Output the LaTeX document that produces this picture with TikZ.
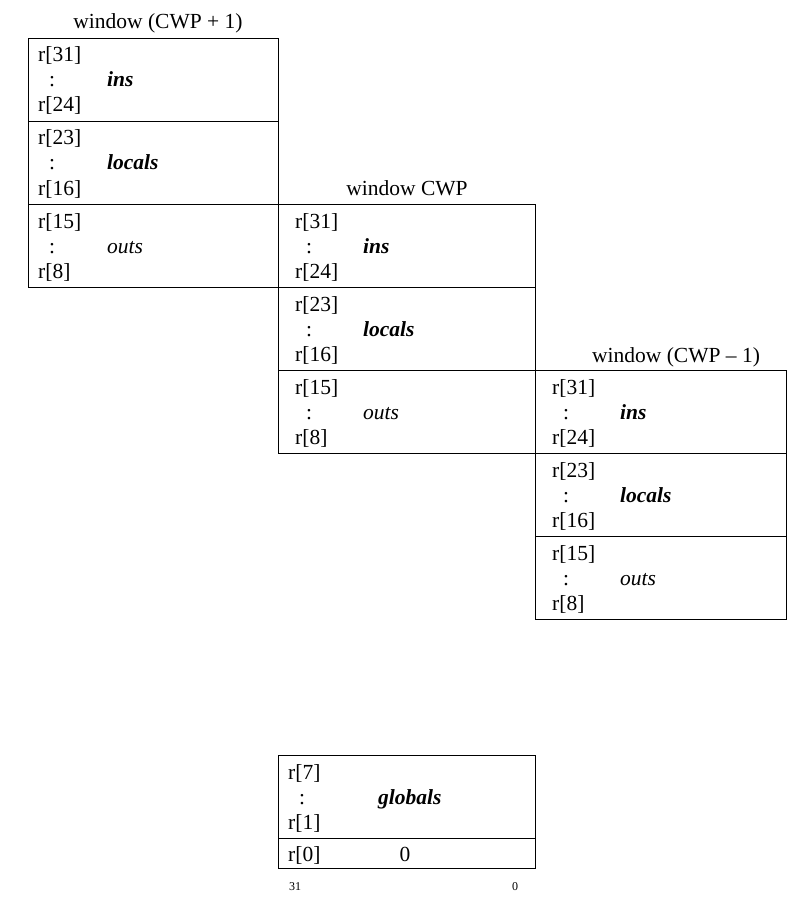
\documentclass[tikz,border=0pt]{standalone}
\usepackage{fontspec}
\setmainfont{Liberation Serif}
\usetikzlibrary{positioning}

\begin{document}
\begin{tikzpicture}[x=1pt,y=-1pt]
  \tikzstyle{every node}=[inner sep=0pt, font=\fontsize{21.5}{26}\selectfont]
  \tikzstyle{part}=[draw, line width=0.9pt, rectangle, anchor=north west, minimum height=83pt]
  \tikzstyle{reg}=[anchor=base west]
  \tikzstyle{grp}=[anchor=base west, font=\fontsize{21.5}{26}\selectfont\bfseries\itshape]
  \tikzstyle{ogrp}=[anchor=base west, font=\fontsize{21.5}{26}\selectfont\itshape]
  \tikzstyle{wtitle}=[anchor=base]

  \useasboundingbox (0,0) rectangle (808,912);

  % window CWP+1
  \node (t1) [wtitle] at (158,29) {window (CWP + 1)};
  \node (w1i) [part, minimum width=250pt] at (28,38) {};
  \node (w1l) [part, minimum width=250pt] at (28,121) {};
  \node (w1o) [part, minimum width=250pt] at (28,204) {};
  \node (a1) [reg] at (38,62) {r[31]};
  \node (b1) [reg] at (49,87) {:};
  \node (c1) [reg] at (38,112) {r[24]};
  \node (n1) [grp] at (107,87) {ins};
  \node (d1) [reg] at (38,145) {r[23]};
  \node (e1) [reg] at (49,170) {:};
  \node (f1) [reg] at (38,195) {r[16]};
  \node (m1) [grp] at (107,170) {locals};
  \node (g1) [reg] at (38,228) {r[15]};
  \node (h1) [reg] at (49,253) {:};
  \node (k1) [reg] at (38,278) {r[8]};
  \node (o1) [ogrp] at (107,253) {outs};

  % window CWP
  \node (t2) [wtitle] at (407,195) {window CWP};
  \node (w2i) [part, minimum width=257pt] at (278,204) {};
  \node (w2l) [part, minimum width=257pt] at (278,287) {};
  \node (w2o) [part, minimum width=257pt] at (278,370) {};
  \node (a2) [reg] at (295,228) {r[31]};
  \node (b2) [reg] at (306,253) {:};
  \node (c2) [reg] at (295,278) {r[24]};
  \node (n2) [grp] at (363,253) {ins};
  \node (d2) [reg] at (295,311) {r[23]};
  \node (e2) [reg] at (306,336) {:};
  \node (f2) [reg] at (295,361) {r[16]};
  \node (m2) [grp] at (363,336) {locals};
  \node (g2) [reg] at (295,394) {r[15]};
  \node (h2) [reg] at (306,419) {:};
  \node (k2) [reg] at (295,444) {r[8]};
  \node (o2) [ogrp] at (363,419) {outs};

  % window CWP-1
  \node (t3) [wtitle] at (676,362) {window (CWP -- 1)};
  \node (w3i) [part, minimum width=251pt] at (535,370) {};
  \node (w3l) [part, minimum width=251pt] at (535,453) {};
  \node (w3o) [part, minimum width=251pt] at (535,536) {};
  \node (a3) [reg] at (552,394) {r[31]};
  \node (b3) [reg] at (563,419) {:};
  \node (c3) [reg] at (552,444) {r[24]};
  \node (n3) [grp] at (620,419) {ins};
  \node (d3) [reg] at (552,477) {r[23]};
  \node (e3) [reg] at (563,502) {:};
  \node (f3) [reg] at (552,527) {r[16]};
  \node (m3) [grp] at (620,502) {locals};
  \node (g3) [reg] at (552,560) {r[15]};
  \node (h3) [reg] at (563,585) {:};
  \node (k3) [reg] at (552,610) {r[8]};
  \node (o3) [ogrp] at (620,585) {outs};

  % globals
  \node (gl) [part, minimum width=257pt] at (278,755) {};
  \node (zr) [part, minimum width=257pt, minimum height=30pt] at (278,838) {};
  \node (a4) [reg] at (288,779) {r[7]};
  \node (b4) [reg] at (299,804) {:};
  \node (c4) [reg] at (288,829) {r[1]};
  \node (n4) [grp] at (378,804) {globals};
  \node (r0) [reg] at (288,861) {r[0]};
  \node (z0) [wtitle] at (405,861) {0};
  \node (hi) [anchor=base, font=\fontsize{12}{14}\selectfont] at (295,890) {31};
  \node (lo) [anchor=base, font=\fontsize{12}{14}\selectfont] at (515,890) {0};
\end{tikzpicture}
\end{document}
